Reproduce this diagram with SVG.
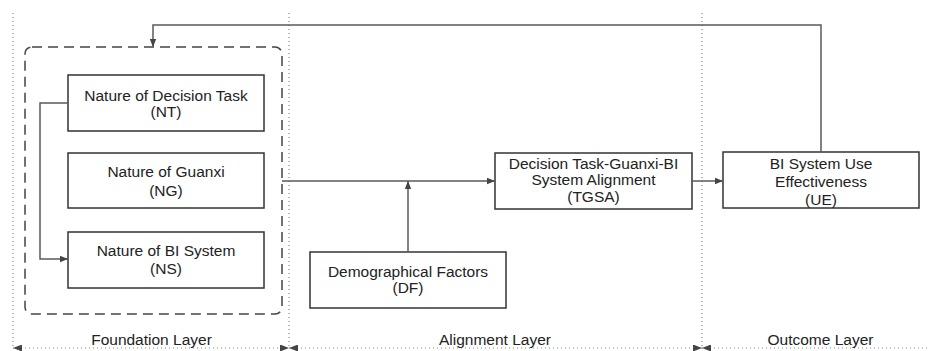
<svg xmlns="http://www.w3.org/2000/svg" width="929" height="351" viewBox="0 0 929 351">
<defs>
<style>
.box{fill:#fff;stroke:#333;stroke-width:1.5}
.t{font-family:"Liberation Sans",Arial,sans-serif;font-size:15.5px;fill:#222;text-anchor:middle}
.c{fill:none;stroke:#5a5a5a;stroke-width:1.5}
.guide{fill:none;stroke:#888;stroke-width:1.2;stroke-dasharray:1 3}
.dash{fill:none;stroke:#444;stroke-width:1.5;stroke-dasharray:10 6}
</style>
<marker id="ah" viewBox="0 0 10 10" refX="10" refY="5" markerWidth="8" markerHeight="8" markerUnits="userSpaceOnUse" orient="auto">
<path d="M0,1 L10,5 L0,9 Z" fill="#444"/>
</marker>
<marker id="dim" viewBox="0 0 10 10" refX="10" refY="5" markerWidth="9" markerHeight="7" markerUnits="userSpaceOnUse" orient="auto-start-reverse" preserveAspectRatio="none">
<path d="M0,0 L10,5 L0,10 Z" fill="#444"/>
</marker>
</defs>

<g id="layers">
<line class="guide" x1="13" y1="13" x2="13" y2="347"/>
<line class="guide" x1="289" y1="13" x2="289" y2="347"/>
<line class="guide" x1="702" y1="13" x2="702" y2="347"/>
<line class="guide" x1="13" y1="348" x2="289" y2="348" marker-start="url(#dim)" marker-end="url(#dim)"/>
<line class="guide" x1="289" y1="348" x2="702" y2="348" marker-start="url(#dim)" marker-end="url(#dim)"/>
<line class="guide" x1="702" y1="348" x2="935" y2="348" marker-start="url(#dim)"/>
<text class="t" x="151.5" y="345">Foundation Layer</text>
<text class="t" x="495" y="345">Alignment Layer</text>
<text class="t" x="820.5" y="345">Outcome Layer</text>
</g>

<g id="foundation">
<rect class="dash" x="25" y="47" width="257" height="267" rx="7"/>
</g>

<g id="NT">
<rect class="box" x="68" y="75" width="196" height="56"/>
<text class="t" x="166" y="101">Nature of Decision Task</text>
<text class="t" x="166" y="117">(NT)</text>
</g>

<g id="NG">
<rect class="box" x="68" y="153" width="196" height="55"/>
<text class="t" x="166" y="177">Nature of Guanxi</text>
<text class="t" x="166" y="196">(NG)</text>
</g>

<g id="NS">
<rect class="box" x="68" y="232" width="196" height="56"/>
<text class="t" x="166" y="256">Nature of BI System</text>
<text class="t" x="166" y="274">(NS)</text>
</g>

<g id="DF">
<rect class="box" x="310" y="252" width="196" height="56"/>
<text class="t" x="408" y="277">Demographical Factors</text>
<text class="t" x="408" y="293">(DF)</text>
</g>

<g id="TGSA">
<rect class="box" x="495" y="153" width="197" height="56"/>
<text class="t" x="593.5" y="169">Decision Task-Guanxi-BI</text>
<text class="t" x="593.5" y="185">System Alignment</text>
<text class="t" x="593.5" y="202">(TGSA)</text>
</g>

<g id="UE">
<rect class="box" x="723" y="152" width="196" height="56"/>
<text class="t" x="821" y="169">BI System Use</text>
<text class="t" x="821" y="187">Effectiveness</text>
<text class="t" x="821" y="205">(UE)</text>
</g>

<g id="connectors">
<polyline class="c" points="68,103 40,103 40,259 68,259" marker-end="url(#ah)"/>
<line class="c" x1="282" y1="181" x2="495" y2="181" marker-end="url(#ah)"/>
<line class="c" x1="408" y1="252" x2="408" y2="181" marker-end="url(#ah)"/>
<line class="c" x1="692" y1="181" x2="723" y2="181" marker-end="url(#ah)"/>
<polyline class="c" points="821,152 821,25 153,25 153,47" marker-end="url(#ah)"/>
</g>
</svg>
